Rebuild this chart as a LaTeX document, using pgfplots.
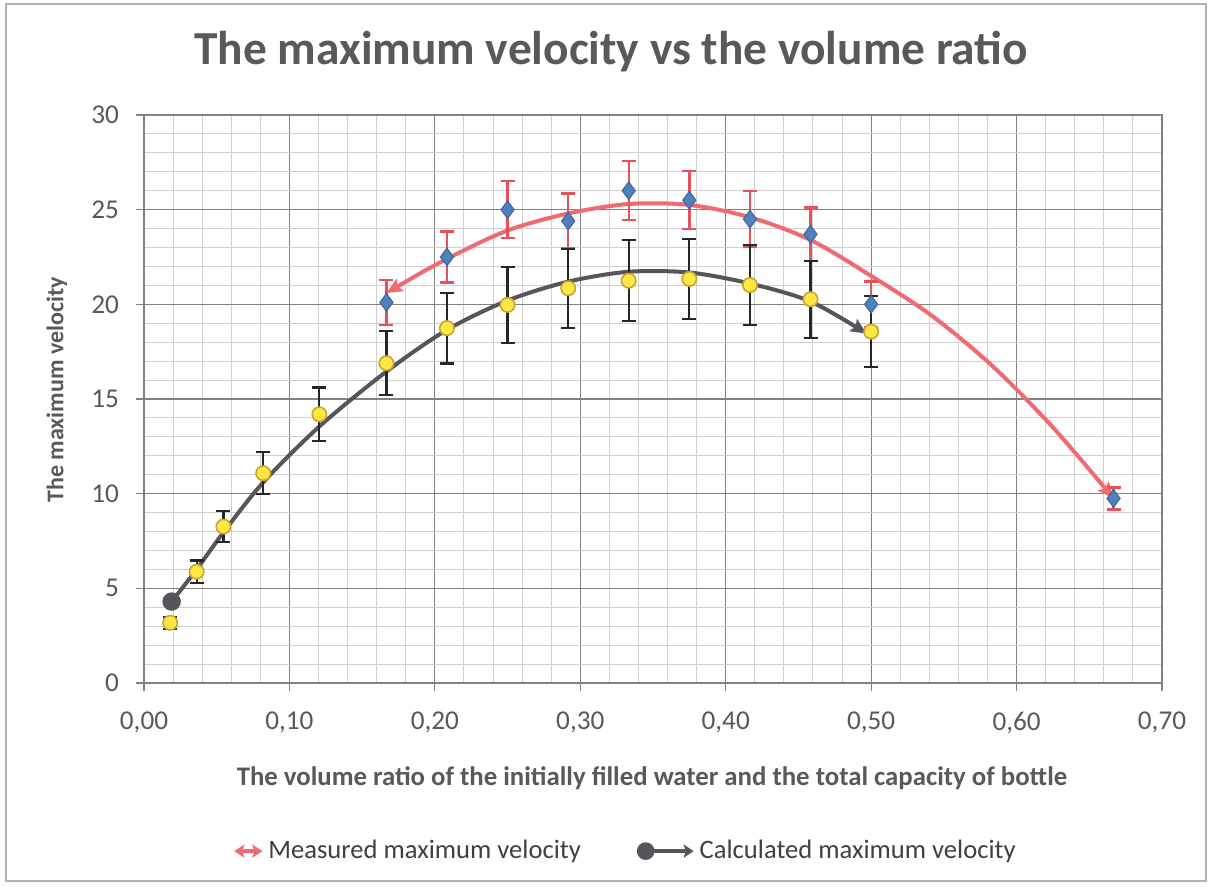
\documentclass[border=0pt]{standalone}
\usepackage{pgfplots}
\pgfplotsset{compat=1.18}
\usepackage{pgfplotstable}
\usepackage{fontspec}
\setmainfont{Carlito}
\usetikzlibrary{arrows.meta}

\definecolor{txt}{HTML}{595959}
\definecolor{legtxt}{HTML}{404040}
\definecolor{redline}{RGB}{240,106,112}
\definecolor{redbar}{RGB}{232,80,90}
\definecolor{diam}{RGB}{79,129,189}
\definecolor{diamedge}{RGB}{60,100,160}
\definecolor{grayline}{RGB}{85,85,92}
\definecolor{yellowfill}{RGB}{255,232,70}
\definecolor{yellowedge}{RGB}{200,165,40}
\definecolor{majgrid}{RGB}{130,130,130}
\definecolor{mingrid}{RGB}{208,208,208}

% measured maximum velocity (markers, 6% error bars)
\pgfplotstableread{
x      y     e
0.1667 20.1  1.20
0.2083 22.5  1.35
0.2500 25.0  1.50
0.2917 24.4  1.46
0.3333 26.0  1.56
0.3750 25.5  1.53
0.4167 24.5  1.47
0.4583 23.7  1.42
0.5000 20.0  1.20
0.6667 9.75  0.58
}\measured

% calculated maximum velocity (markers, 10% error bars)
\pgfplotstableread{
x      y     e
0.0180 3.18  0.32
0.0362 5.88  0.59
0.0546 8.26  0.83
0.0820 11.08 1.11
0.1206 14.19 1.42
0.1667 16.89 1.69
0.2083 18.74 1.87
0.2500 19.97 2.00
0.2917 20.85 2.09
0.3333 21.25 2.13
0.3750 21.34 2.13
0.4167 21.02 2.10
0.4583 20.27 2.03
0.5000 18.56 1.86
}\calculated

% smoothed curve of the measured series
\pgfplotstableread{
x      y
0.1667 20.6
0.2083 22.4
0.2500 23.9
0.2917 24.8
0.3333 25.3
0.3750 25.25
0.4167 24.6
0.4583 23.4
0.5000 21.5
0.5417 19.4
0.5833 16.75
0.6250 13.5
0.6667 9.75
}\measuredcurve

% smoothed curve of the calculated series
\pgfplotstableread{
x      y
0.0190 4.30
0.0362 6.00
0.0546 7.95
0.0820 10.60
0.1206 13.55
0.1667 16.45
0.2083 18.65
0.2500 20.20
0.2917 21.20
0.3333 21.72
0.3750 21.68
0.4167 21.10
0.4583 20.15
0.4970 18.45
}\calculatedcurve

\begin{document}
\begin{tikzpicture}
\useasboundingbox (-72pt,-102pt) rectangle (533.5pt,341.5pt);
\fill[white] (-72pt,-102pt) rectangle (533.5pt,341.5pt);
\draw[gray!60, line width=0.7pt] (-69pt,-99pt) rectangle (531pt,339.5pt);
\begin{axis}[
  at={(0pt,0pt)}, anchor=south west,
  scale only axis, width=509pt, height=284pt,
  xmin=0, xmax=0.7, ymin=0, ymax=30,
  xtick={0,0.1,0.2,0.3,0.4,0.5,0.6,0.7},
  ytick={0,5,10,15,20,25,30},
  minor x tick num=4, minor y tick num=4,
  grid=both,
  major grid style={majgrid, line width=0.55pt},
  minor grid style={mingrid, line width=0.5pt},
  axis line style={majgrid, line width=0.6pt},
  tick pos=left, tick align=outside,
  major tick length=4pt, minor tick length=0pt,
  tick style={majgrid, line width=0.55pt},
  /pgf/number format/assume math mode=true,
  xticklabel style={/pgf/number format/.cd, use comma, fixed, fixed zerofill, precision=2,
    /tikz/.cd, yshift=-7pt},
  yticklabel style={xshift=-5pt},
  ticklabel style={font=\fontsize{13.6}{15}\selectfont, text=txt},
  xlabel={The volume ratio of the initially filled water and the total capacity of bottle},
  ylabel={The maximum velocity},
  xlabel style={at={(axis description cs:0.499,-0.1673)}, anchor=center,
    font=\fontsize{13.4}{15}\selectfont\bfseries, text=txt},
  ylabel style={at={(axis description cs:-0.0855,0.516)}, anchor=center,
    font=\fontsize{12}{14}\selectfont\bfseries, text=txt},
  legend style={at={(0.4735,-0.296)}, anchor=center, draw=none, fill=none,
    font=\fontsize{13.3}{15}\selectfont, text=legtxt,
    /tikz/every even column/.append style={column sep=26pt}},
  legend columns=2,
  clip=false,
]
% curves
\addplot[redline, line width=2pt, smooth,
  arrows={Stealth[length=8pt,width=7pt,inset=1.5pt]-Stealth[length=8pt,width=7pt,inset=1.5pt]},
  legend image code/.code={
    \draw[redline, line width=2pt,
      arrows={Stealth[length=5pt,width=6.5pt,inset=1pt]-Stealth[length=5pt,width=6.5pt,inset=1pt]}]
      (0pt,0pt) -- (14pt,0pt);}]
  table[x=x, y=y] {\measuredcurve};
\addlegendentry{Measured maximum velocity}

\addplot[grayline, line width=2pt, smooth,
  arrows={-Stealth[length=8pt,width=7pt,inset=1.5pt]},
  mark=*, mark indices={1}, mark size=3.6pt,
  mark options={fill=grayline, draw=grayline, arrows=-},
  legend image code/.code={
    \draw[grayline, line width=2pt, arrows={-Stealth[length=5pt,width=6.5pt,inset=1pt]}]
      (0pt,0pt) -- (25pt,0pt);
    \fill[grayline] (1pt,0pt) circle (3.4pt);}]
  table[x=x, y=y] {\calculatedcurve};
\addlegendentry{Calculated maximum velocity}

% measured points with error bars
\addplot[forget plot, only marks, mark=diamond*, mark size=4.4pt,
  mark options={fill=diam, draw=diamedge, line width=0.5pt},
  error bars/.cd, y dir=both, y explicit,
  error bar style={redbar, line width=1.2pt},
  error mark options={rotate=90, redbar, mark size=3.5pt, line width=1.2pt}]
  table[x=x, y=y, y error=e] {\measured};

% calculated points with error bars
\addplot[forget plot, only marks, mark=*, mark size=3.6pt,
  mark options={fill=yellowfill, draw=yellowedge, line width=0.8pt},
  error bars/.cd, y dir=both, y explicit,
  error bar style={black!85, line width=1.1pt},
  error mark options={rotate=90, black!85, mark size=3.5pt, line width=1.1pt}]
  table[x=x, y=y, y error=e] {\calculated};

\node[font=\fontsize{23.7}{28}\selectfont\bfseries, text=txt, yshift=31.5pt]
  at (rel axis cs:0.459,1) {The maximum velocity vs the volume ratio};
\end{axis}
\end{tikzpicture}
\end{document}
